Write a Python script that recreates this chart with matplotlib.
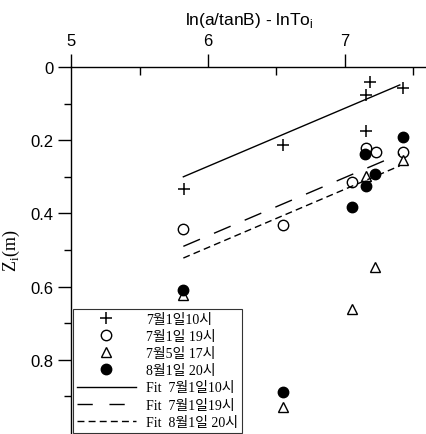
import matplotlib
matplotlib.use("Agg")
import matplotlib.pyplot as plt
from matplotlib.ticker import FixedLocator
from matplotlib.lines import Line2D

# ---- data ----
x_10 = [5.825, 6.55, 7.153, 7.153, 7.185, 7.42]
z_10 = [0.333, 0.213, 0.176, 0.076, 0.040, 0.057]

x_19 = [5.82, 6.55, 7.05, 7.15, 7.226, 7.42]
z_19 = [0.443, 0.432, 0.313, 0.222, 0.233, 0.231]

x_0517 = [5.82, 7.05, 7.153, 7.22, 7.42, 6.55]
z_0517 = [0.623, 0.661, 0.297, 0.547, 0.253, 0.930]

x_0820 = [5.82, 7.05, 7.146, 7.153, 7.22, 7.42, 6.55]
z_0820 = [0.608, 0.383, 0.238, 0.324, 0.292, 0.192, 0.888]

fit_x = [5.82, 7.40]
fit_z_10 = [0.300, 0.049]
fit_z_19 = [0.490, 0.238]
fit_z_0820 = [0.522, 0.270]

labels = ["7월1일10시", "7월1일 19시", "7월5일 17시", "8월1일 20시",
          "Fit  7월1일10시", "Fit  7월1일19시", "Fit  8월1일 20시"]
x_major = [5, 6, 7]
y_major = [0, 0.2, 0.4, 0.6, 0.8]
y_major_labels = ["0", "0.2", "0.4", "0.6", "0.8"]

# ---- figure ----
fig = plt.figure(figsize=(4.27, 4.35), dpi=100)
ax = fig.add_axes([71/427, 1/435, 356/427, 366/435])

ax.plot(x_10, z_10, linestyle="none", marker="+", color="black",
        markersize=9, markeredgewidth=1.1)
ax.plot(x_19, z_19, linestyle="none", marker="o", markerfacecolor="white",
        markeredgecolor="black", markersize=7.5, markeredgewidth=1.0)
ax.plot(x_0517, z_0517, linestyle="none", marker="^", markerfacecolor="white",
        markeredgecolor="black", markersize=7, markeredgewidth=1.0)
ax.plot(x_0820, z_0820, linestyle="none", marker="o", color="black",
        markersize=7.5)

ax.plot(fit_x, fit_z_10, color="black", linewidth=1.0)
ax.plot(fit_x, fit_z_19, color="black", linewidth=1.0, dashes=(13, 11))
ax.plot(fit_x, fit_z_0820, color="black", linewidth=1.0, dashes=(5, 3))

ax.set_xlim(5, 5 + 356/137)
ax.set_ylim(1.0, 0)

for s in ["right", "bottom"]:
    ax.spines[s].set_visible(False)
for s in ["top", "left"]:
    ax.spines[s].set_linewidth(1.0)

ax.xaxis.tick_top()
ax.xaxis.set_label_position("top")
ax.xaxis.set_major_locator(FixedLocator(x_major))
ax.xaxis.set_minor_locator(FixedLocator([5.5, 6.5, 7.5]))
ax.tick_params(axis="x", which="major", direction="out", length=9.5, width=1.0,
               pad=4, labelsize=12)
ax.tick_params(axis="x", which="minor", direction="in", length=5.5, width=1.0)
ax.set_xticklabels([str(v) for v in x_major], fontfamily="Liberation Sans")

ax.yaxis.set_major_locator(FixedLocator(y_major))
ax.yaxis.set_minor_locator(FixedLocator([0.1, 0.3, 0.5, 0.7, 0.9]))
ax.tick_params(axis="y", which="major", direction="out", length=9.5, width=1.0,
               pad=3, labelsize=12)
ax.tick_params(axis="y", which="minor", direction="out", length=5, width=1.0)
ax.set_yticklabels(y_major_labels, fontfamily="Liberation Sans")

ax.set_xlabel(r"ln(a/tanB) - lnTo$_\mathregular{i}$", fontsize=12.5,
              fontfamily="Liberation Sans", labelpad=7)
ax.set_ylabel(r"Z$_\mathregular{i}$(m)", fontsize=13,
              fontfamily="Liberation Serif", labelpad=6)

handles = [
    Line2D([], [], linestyle="none", marker="+", color="black", markersize=9,
           markeredgewidth=1.1),
    Line2D([], [], linestyle="none", marker="o", markerfacecolor="white",
           markeredgecolor="black", markersize=7.5),
    Line2D([], [], linestyle="none", marker="^", markerfacecolor="white",
           markeredgecolor="black", markersize=7),
    Line2D([], [], linestyle="none", marker="o", color="black", markersize=7.5),
    Line2D([], [], color="black", linewidth=1.0),
    Line2D([], [], color="black", linewidth=1.0, dashes=(11, 12)),
    Line2D([], [], color="black", linewidth=1.0, dashes=(5, 3)),
]
leg = ax.legend(handles, labels, loc="upper left", bbox_to_anchor=(0.006, 0.34),
                prop={"family": ["Liberation Serif", "Noto Sans CJK KR"], "size": 10},
                handlelength=4.2, handletextpad=0.75, labelspacing=0.3,
                borderpad=0.3, borderaxespad=0, frameon=True, fancybox=False)
leg.get_frame().set_edgecolor("black")
leg.get_frame().set_linewidth(0.8)

fig.savefig("out.png", dpi=100)
